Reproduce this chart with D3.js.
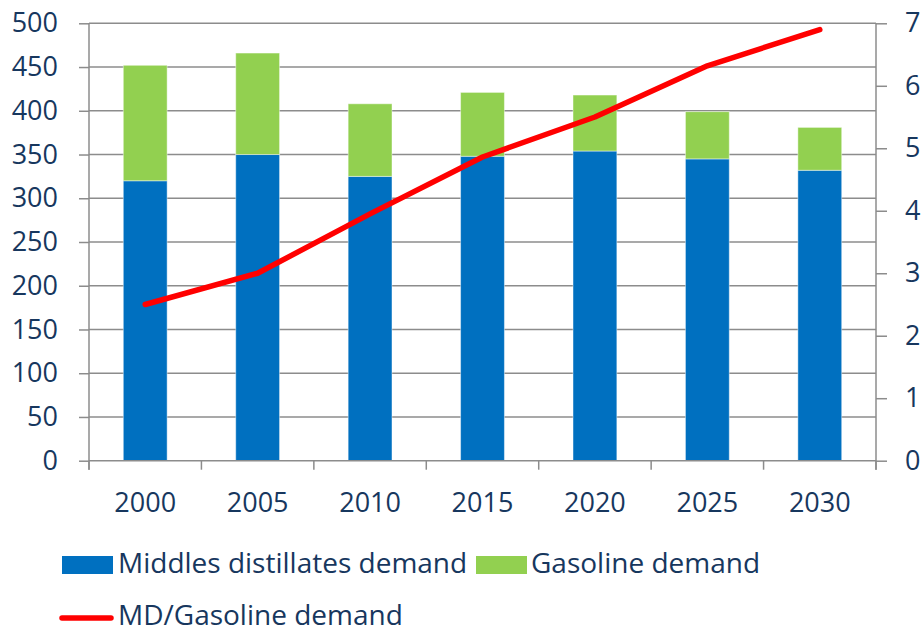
<!DOCTYPE html>
<html>
<head>
<meta charset="utf-8">
<script src="https://cdn.jsdelivr.net/npm/d3@7"></script>
<style>
  html, body { margin: 0; padding: 0; background: #fff; }
  svg { display: block; }
  text { font-family: "Open Sans", sans-serif; fill: #17375E; }
</style>
</head>
<body>
<svg id="chart" width="924" height="632"></svg>
<script>
// ---- data ----
const years = ["2000", "2005", "2010", "2015", "2020", "2025", "2030"];
const middleDistillates = [320, 350, 325, 348, 354, 345, 332];
const gasoline = [132, 116, 83, 73, 64, 54, 49];
const mdGasolineRatio = [2.5, 3.0, 3.95, 4.86, 5.5, 6.32, 6.9];
const leftTicks = [0, 50, 100, 150, 200, 250, 300, 350, 400, 450, 500];
const rightTicks = [0, 1, 2, 3, 4, 5, 6, 7];
const seriesNames = ["Middles distillates demand", "Gasoline demand", "MD/Gasoline demand"];

// ---- layout ----
const pLeft = 89, pRight = 876, pTop = 23.3, pBottom = 460.7;
const colors = { md: "#0070C0", gas: "#92D050", ratio: "#FF0000", grid: "#8C8C8C" };

const svg = d3.select("#chart");

const x = d3.scaleBand().domain(years).range([pLeft, pRight]).paddingInner(0.61).paddingOuter(0.305);
const yL = d3.scaleLinear().domain([0, 500]).range([pBottom, pTop]);
const yR = d3.scaleLinear().domain([0, 7]).range([pBottom, pTop]);

// gridlines
svg.append("g")
  .selectAll("line")
  .data(leftTicks.filter(d => d > 0))
  .join("line")
  .attr("x1", pLeft).attr("x2", pRight)
  .attr("y1", d => yL(d)).attr("y2", d => yL(d))
  .attr("stroke", colors.grid).attr("stroke-width", 1.5);

// stacked bars
const table = years.map((yr, i) => ({ year: yr, md: middleDistillates[i], gas: gasoline[i] }));
const stack = d3.stack().keys(["md", "gas"])(table);
const barG = svg.append("g");
stack.forEach(layer => {
  barG.append("g")
    .selectAll("rect")
    .data(layer)
    .join("rect")
    .attr("x", d => x(d.data.year))
    .attr("width", x.bandwidth())
    .attr("y", d => yL(d[1]))
    .attr("height", d => yL(d[0]) - yL(d[1]))
    .attr("fill", colors[layer.key])
    .attr("stroke", "rgba(255,255,255,0.45)")
    .attr("stroke-width", 1);
});

// left axis
const axL = d3.axisLeft(yL).tickValues(leftTicks).tickFormat(d3.format("d")).tickSize(10).tickPadding(20);
const gL = svg.append("g").attr("transform", `translate(${pLeft},0)`).call(axL);
// right axis
const axR = d3.axisRight(yR).tickValues(rightTicks).tickFormat(d3.format("d")).tickSize(11).tickPadding(20);
const gR = svg.append("g").attr("transform", `translate(${pRight},0)`).call(axR);
// bottom axis (ticks at category boundaries)
const boundaries = d3.range(years.length + 1).map(i => pLeft + i * (pRight - pLeft) / years.length);
const gB = svg.append("g").attr("transform", `translate(0,${pBottom})`);
gB.append("line").attr("x1", pLeft).attr("x2", pRight).attr("y1", 0).attr("y2", 0)
  .attr("stroke", colors.grid).attr("stroke-width", 1.5);
gB.selectAll("line.tk").data(boundaries).join("line").attr("class", "tk")
  .attr("x1", d => d).attr("x2", d => d).attr("y1", 0).attr("y2", 9)
  .attr("stroke", colors.grid).attr("stroke-width", 1.5);
gB.selectAll("text").data(years).join("text")
  .attr("x", d => x(d) + x.bandwidth() / 2).attr("y", 51)
  .attr("text-anchor", "middle").attr("font-size", 27).text(d => d);

[gL, gR].forEach(g => {
  g.select(".domain").attr("stroke", colors.grid).attr("stroke-width", 1.5)
    .attr("d", `M0,${pTop}V${pBottom + 9}`);
  g.selectAll(".tick line").attr("stroke", colors.grid).attr("stroke-width", 1.5);
  g.selectAll(".tick text").attr("font-size", 27).attr("fill", "#17375E")
    .style("font-family", "'Open Sans', sans-serif");
});
gL.selectAll(".tick text").attr("x", -31);
gR.selectAll(".tick text").attr("x", 29);

// ratio line
const line = d3.line()
  .x((d, i) => x(years[i]) + x.bandwidth() / 2)
  .y(d => yR(d));
svg.append("path")
  .datum(mdGasolineRatio)
  .attr("d", line)
  .attr("fill", "none")
  .attr("stroke", colors.ratio)
  .attr("stroke-width", 5.5)
  .attr("stroke-linecap", "round")
  .attr("stroke-linejoin", "round");

// legend
const lg = svg.append("g");
lg.append("rect").attr("x", 62).attr("y", 556).attr("width", 51).attr("height", 18).attr("fill", colors.md);
lg.append("text").attr("x", 118).attr("y", 573).attr("font-size", 28).text(seriesNames[0]);
lg.append("rect").attr("x", 476).attr("y", 556).attr("width", 51).attr("height", 18).attr("fill", colors.gas);
lg.append("text").attr("x", 531).attr("y", 573).attr("font-size", 28).text(seriesNames[1]);
lg.append("line").attr("x1", 62).attr("x2", 111).attr("y1", 618).attr("y2", 618)
  .attr("stroke", colors.ratio).attr("stroke-width", 5.5).attr("stroke-linecap", "round");
lg.append("text").attr("x", 118).attr("y", 625).attr("font-size", 28).text(seriesNames[2]);
</script>
</body>
</html>
